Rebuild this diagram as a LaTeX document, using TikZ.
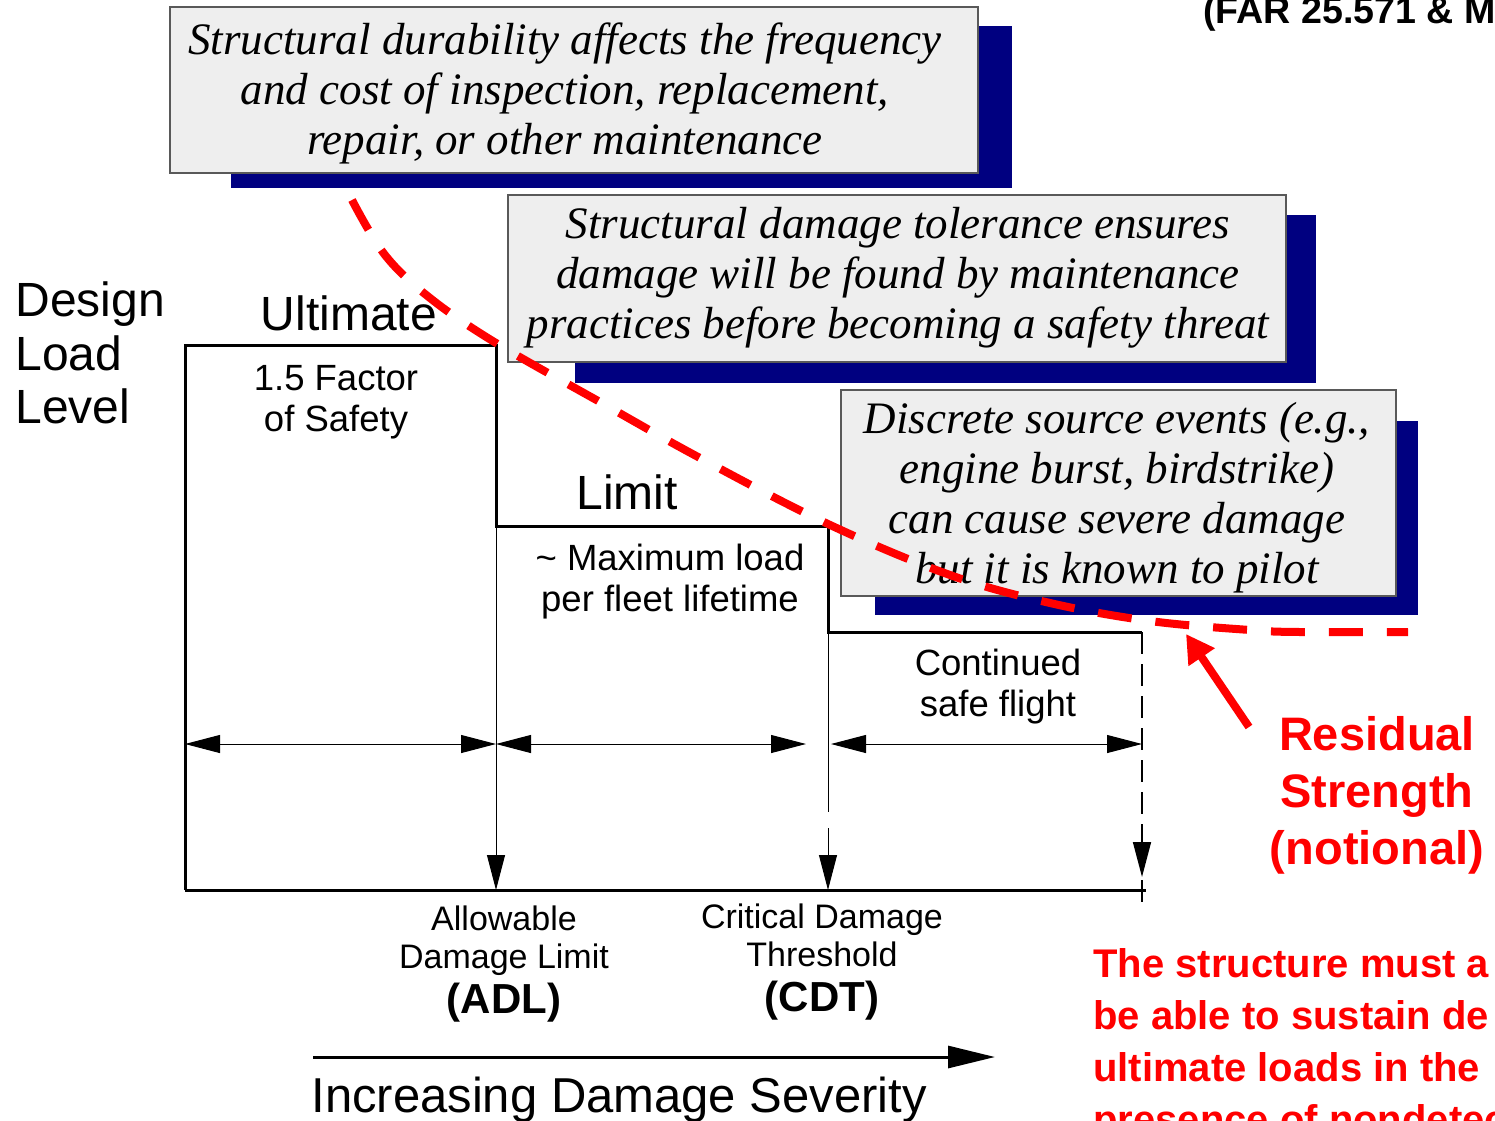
\documentclass[tikz,border=0pt]{standalone}
\usepackage{fontspec}
\setmainfont{Liberation Sans}
\newfontfamily\notefont{Liberation Serif}
\usetikzlibrary{arrows.meta,positioning}
\definecolor{shadowblue}{RGB}{0,0,128}
\definecolor{notegray}{RGB}{238,238,238}
\definecolor{rsred}{RGB}{255,0,0}

\begin{document}
\begin{tikzpicture}[x=0.5pt, y=-0.5pt,
  notebox/.style = {draw=black!65, fill=notegray, line width=0.6pt, inner sep=0pt},
  note/.style = {align=center, inner sep=0pt, font=\notefont\itshape\fontsize{22.5}{25}\selectfont},
  shade/.style = {fill=shadowblue},
  lbl/.style = {align=center, inner sep=0pt, font=\fontsize{18.25}{20.5}\selectfont},
  big/.style = {inner sep=0pt, font=\fontsize{24}{26.75}\selectfont},
  sev/.style = {align=center, inner sep=0pt, anchor=north, font=\fontsize{17}{19}\selectfont},
  tip/.style = {line width=0.5pt, -{Triangle[length=17.5pt,width=9pt]}},
  both/.style = {line width=0.5pt, {Triangle[length=17.5pt,width=9pt]}-{Triangle[length=17.5pt,width=9pt]}},
  redtxt/.style = {text=rsred, inner sep=0pt, font=\bfseries\fontsize{23.5}{28.5}\selectfont}]

  \useasboundingbox (0,0) rectangle (1495,1120);
  \clip (0,0) rectangle (1495,1120);

  % notes with shadows
  \fill[shade] (231,26) rectangle (1012,188);
  \node[notebox, minimum width=404pt, minimum height=83pt] (dur) at (574,90) {};
  \node[note] (durtxt) at (565,93)
    {Structural durability affects the frequency\\and cost of inspection, replacement,\\repair, or other maintenance};
  \fill[shade] (575,215) rectangle (1316,383);
  \node[notebox, minimum width=389pt, minimum height=83.5pt] (dt) at (897,278.5) {};
  \node[note] (dttxt) at (898,278)
    {Structural damage tolerance ensures\\damage will be found by maintenance\\practices before becoming a safety threat};
  \fill[shade] (875,421) rectangle (1418,615);
  \node[notebox, minimum width=277.5pt, minimum height=103pt] (dse) at (1118.5,493) {};
  \node[note] (dsetxt) at (1117,498)
    {Discrete source events (e.g.,\\engine burst, birdstrike)\\can cause severe damage\\but it is known to pilot};

  % load levels
  \coordinate (o) at (185,890);
  \coordinate (ul) at (185,345);
  \coordinate (ur) at (496,345);
  \coordinate (adltop) at (496,526);
  \coordinate (cdtleft) at (828,526);
  \coordinate (cdttop) at (828,632);
  \coordinate (end) at (1142,632);
  \coordinate (adl) at (496,890);
  \coordinate (cdtgap) at (828,812);
  \coordinate (cdtarr) at (828,828);
  \coordinate (cdt) at (828,890);
  \coordinate (endtip) at (1142,877);
  \coordinate (endtick) at (1142,880);
  \coordinate (endb) at (1142,902);
  \coordinate (base) at (1146,890);

  \draw[line width=1.5pt] (o) -- (ul) -- (ur) -- (adltop) -- (cdtleft) -- (cdttop) -- (end);
  \draw[line width=1.5pt] (o) -- (base);

  \draw[tip] (adltop) -- (adl);
  \draw[line width=0.5pt] (cdttop) -- (cdtgap);
  \draw[tip] (cdtarr) -- (cdt);
  \draw[tip, line width=0.8pt, dash pattern=on 11pt off 5pt] (end) -- (endtip);
  \draw[line width=0.8pt] (endtick) -- (endb);

  \coordinate (h0) at (185,744);
  \coordinate (h1) at (496,744);
  \coordinate (h2) at (806,744);
  \coordinate (h3) at (831,744);
  \coordinate (h4) at (1142,744);
  \draw[both] (h0) -- (h1);
  \draw[both] (h1) -- (h2);
  \draw[both] (h3) -- (h4);

  \node[big, anchor=west, align=left] (dll) at (15,353) {Design\\Load\\Level};
  \node[big] (ult) at (349,313) {Ultimate};
  \node[lbl] (fos) at (336,402) {1.5 Factor\\of Safety};
  \node[big] (lim) at (627,492) {Limit};
  \node[lbl] (mxl) at (670,582) {\textasciitilde{} Maximum load\\per fleet lifetime};
  \node[lbl] (csf) at (998,687) {Continued\\safe flight};

  \node[sev] (adllbl) at (504,905)
    {Allowable\\Damage Limit\\[3.5pt]{\bfseries\fontsize{21}{21}\selectfont (ADL)}};
  \node[sev] (cdtlbl) at (822,903)
    {Critical Damage\\Threshold\\[3.5pt]{\bfseries\fontsize{21}{21}\selectfont (CDT)}};

  \coordinate (ax0) at (313,1057);
  \coordinate (ax1) at (995,1057);
  \draw[line width=1.5pt, -{Triangle[length=23.5pt,width=11pt]}] (ax0) -- (ax1);
  \node[inner sep=0pt, font=\fontsize{24.5}{27}\selectfont, anchor=base west] (ids) at (311,1112)
    {Increasing Damage Severity};

  % residual strength
  \draw[rsred, line width=4pt, dash pattern=on 17pt off 12pt] plot[smooth, tension=0.6] coordinates
    {(352,200) (385,255) (430,298) (496,343) (600,402) (700,458) (828,524) (950,575)
     (1050,603) (1150,621) (1250,630) (1300,632) (1408,632)};

  \node[redtxt, align=center] (rs) at (1377,795) {Residual\\Strength\\(notional)};
  \coordinate (rstail) at (1249,727);
  \coordinate (rstip) at (1186,634);
  \draw[rsred, line width=4pt, -{Triangle[length=14pt,width=15pt]}] (rstail) -- (rstip);

  \node[text=rsred, inner sep=0pt, anchor=north west, align=left,
    font=\bfseries\fontsize{20}{26}\selectfont] (req) at (1093,948)
    {The structure must a\\be able to sustain de\\ultimate loads in the\\presence of nondetec};

  \node[inner sep=0pt, anchor=base west, font=\bfseries\fontsize{18.8}{20}\selectfont] (far) at (1203,23)
    {(FAR 25.571 \& M};
\end{tikzpicture}
\end{document}
